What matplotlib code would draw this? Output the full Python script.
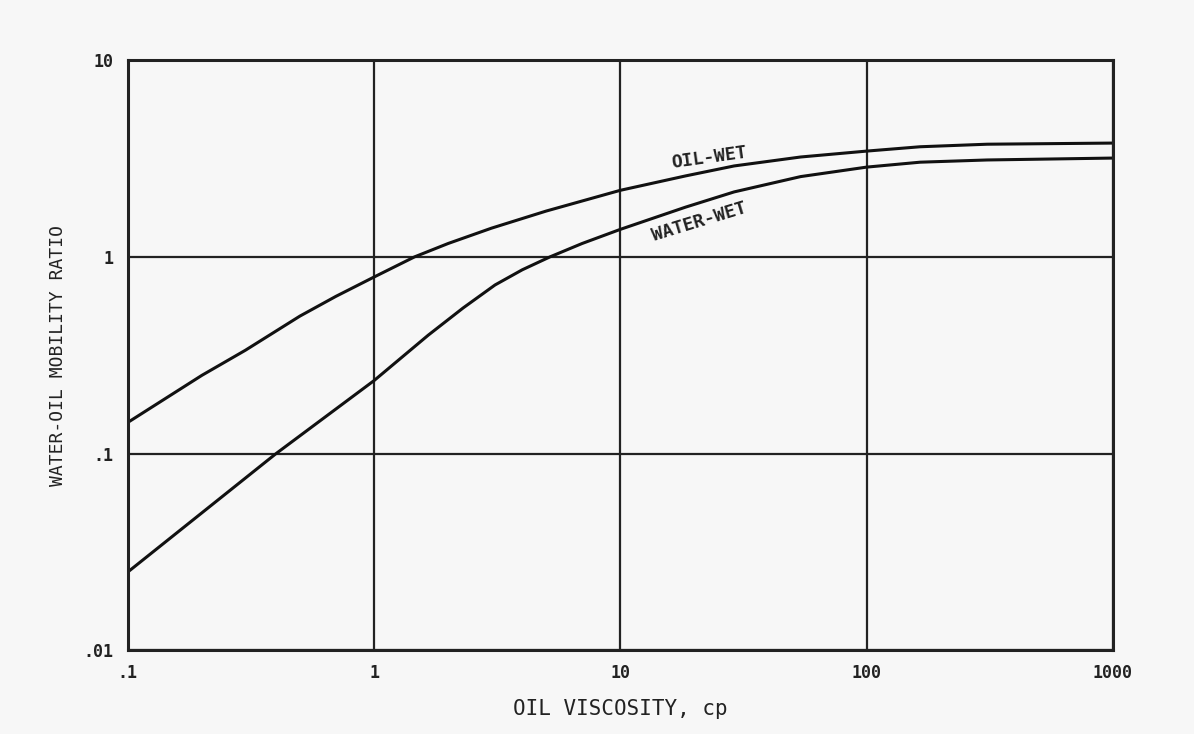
import matplotlib
matplotlib.use('Agg')
from matplotlib import pyplot as plt

# oil viscosity (cp) and mobility ratio
visc_oil = [0.1, 0.2, 0.3, 0.5, 0.7, 1, 1.46, 2, 3, 5, 10, 18.4, 29, 54, 100, 165, 309, 1000]
oil_wet = [0.144, 0.25, 0.335, 0.50, 0.63, 0.79, 1.0, 1.17, 1.40, 1.71, 2.18, 2.58, 2.90, 3.22, 3.45, 3.63, 3.74, 3.79]

visc_water = [0.1, 0.2, 0.4, 1, 1.66, 2.3, 3.1, 4, 5.18, 7, 10, 18.4, 29, 54, 100, 165, 309, 1000]
water_wet = [0.025, 0.05, 0.10, 0.235, 0.40, 0.55, 0.72, 0.86, 1.0, 1.17, 1.38, 1.79, 2.14, 2.56, 2.86, 3.03, 3.11, 3.18]

xticks = [0.1, 1, 10, 100, 1000]
xtick_labels = ['.1', '1', '10', '100', '1000']
yticks = [0.01, 0.1, 1, 10]
ytick_labels = ['.01', '.1', '1', '10']

plt.rcParams['font.family'] = ['DejaVu Sans Mono']
plt.rcParams['font.weight'] = 'bold'

fig = plt.figure(figsize=(11.94, 7.34), dpi=100, facecolor='#f7f7f7')
ax = fig.add_axes([0.107, 0.114, 0.825, 0.804])
ax.set_facecolor('#f7f7f7')

ax.plot(visc_oil, oil_wet, color='#111111', linewidth=2.2)
ax.plot(visc_water, water_wet, color='#111111', linewidth=2.2)

ax.set_xscale('log')
ax.set_yscale('log')
ax.set_xlim(0.1, 1000)
ax.set_ylim(0.01, 10)
ax.set_xticks(xticks)
ax.set_xticklabels(xtick_labels)
ax.set_yticks(yticks)
ax.set_yticklabels(ytick_labels)
ax.minorticks_off()
ax.tick_params(length=0, labelsize=12, colors='#222222', pad=10)
ax.grid(True, color='#222222', linewidth=1.6)
for s in ax.spines.values():
    s.set_linewidth(2.2)
    s.set_color('#222222')

ax.text(23, 3.2, 'OIL-WET', fontsize=13, rotation=8, color='#222222', ha='center', va='center')
ax.text(21, 1.50, 'WATER-WET', fontsize=13, rotation=17, color='#222222', ha='center', va='center')

ax.set_xlabel('OIL VISCOSITY, cp', fontsize=15, color='#222222', labelpad=12)
ax.set_ylabel('WATER-OIL MOBILITY RATIO', fontsize=13, color='#222222', labelpad=12)

plt.savefig('out.png', dpi=100, facecolor='#f7f7f7')
